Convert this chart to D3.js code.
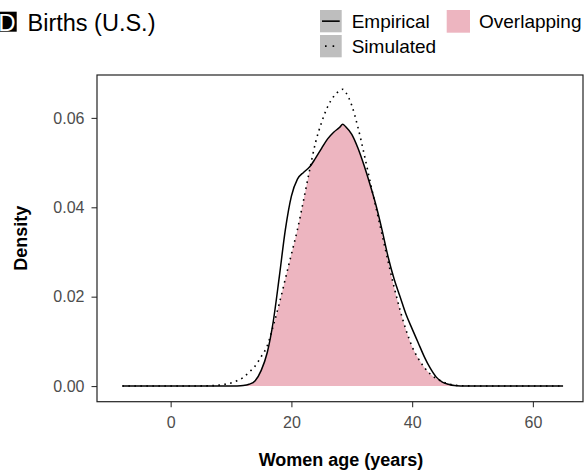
<!DOCTYPE html>
<html>
<head>
<meta charset="utf-8">
<script src="https://cdn.jsdelivr.net/npm/d3@7"></script>
<style>
  html, body { margin: 0; padding: 0; background: #fff; }
  svg { display: block; font-family: "Liberation Sans", Arial, Helvetica, sans-serif; }
</style>
</head>
<body>
<svg id="chart" width="584" height="471"></svg>
<script>
// ---- data ----
const ages = [-8, -4, 0, 4, 6, 8, 9, 10, 11, 12, 13, 14, 15, 16, 17, 18, 19, 20, 21, 22, 23, 24, 25, 26, 27, 28, 28.5, 29, 30, 31, 32, 33, 34, 35, 36, 37, 38, 39, 40, 41, 42, 43, 44, 45, 46, 47, 48, 50, 52, 56, 60, 65];
const empirical = [0, 0, 0, 0, 0, 0, 0, 0, 0.00002, 0.0001, 0.0004, 0.0012, 0.0035, 0.0075, 0.0145, 0.0245, 0.0350, 0.0425, 0.0463, 0.0478, 0.0490, 0.0510, 0.0532, 0.0553, 0.0568, 0.0579, 0.0586, 0.0580, 0.0563, 0.0533, 0.0495, 0.0452, 0.0405, 0.0350, 0.0290, 0.0240, 0.0200, 0.0160, 0.0128, 0.0097, 0.0066, 0.0040, 0.0020, 0.0009, 0.0004, 0.0001, 0.00003, 0, 0, 0, 0, 0];
const simulated = [0, 0, 0, 0.00002, 0.00005, 0.0002, 0.0004, 0.0007, 0.0012, 0.0019, 0.0031, 0.0045, 0.0066, 0.0090, 0.0135, 0.0185, 0.0240, 0.0295, 0.0350, 0.0415, 0.0482, 0.0545, 0.0590, 0.0625, 0.0648, 0.0661, 0.0664, 0.0657, 0.0628, 0.0580, 0.0522, 0.0460, 0.0400, 0.0340, 0.0280, 0.0222, 0.0170, 0.0125, 0.0088, 0.0062, 0.0042, 0.0027, 0.0017, 0.0010, 0.0005, 0.0002, 0.0001, 0.00002, 0, 0, 0, 0];
const xTicks = [0, 20, 40, 60];
const yTicks = [0, 0.02, 0.04, 0.06];
const yTickLabels = ["0.00", "0.02", "0.04", "0.06"];
const legendLines = ["Empirical", "Simulated"];
const legendFill = "Overlapping";
const title = "Births (U.S.)";
const tag = "D";
const xTitle = "Women age (years)";
const yTitle = "Density";

// ---- layout ----
const panel = { left: 97, right: 583, top: 75, bottom: 401.7 };
const pink = "#EDB5C0";

const svg = d3.select("#chart");
const x = d3.scaleLinear().domain([-12.2, 68.3]).range([panel.left, panel.right]);
const y = d3.scaleLinear().domain([-0.0035, 0.0696]).range([panel.bottom, panel.top]);

const empData = ages.map((a, i) => ({ a, d: empirical[i] }));
const simData = ages.map((a, i) => ({ a, d: simulated[i] }));

const defs = svg.append("defs");
const areaGen = d3.area().curve(d3.curveMonotoneX).x(p => x(p.a)).y0(y(0)).y1(p => y(p.d));
const lineGen = d3.line().curve(d3.curveMonotoneX).x(p => x(p.a)).y(p => y(p.d));

defs.append("clipPath").attr("id", "simClip")
  .append("path").attr("d", areaGen(simData));

// overlapping fill = area under both curves
svg.append("path")
  .attr("d", areaGen(empData))
  .attr("fill", pink)
  .attr("clip-path", "url(#simClip)");

// simulated (dotted)
svg.append("path")
  .attr("d", lineGen(simData))
  .attr("fill", "none")
  .attr("stroke", "#000")
  .attr("stroke-width", 1.6)
  .attr("stroke-dasharray", "1.6,4.4");

// empirical (solid)
svg.append("path")
  .attr("d", lineGen(empData))
  .attr("fill", "none")
  .attr("stroke", "#000")
  .attr("stroke-width", 1.5);

// axes
const xAxis = svg.append("g")
  .attr("transform", `translate(0,${panel.bottom})`)
  .call(d3.axisBottom(x).tickValues(xTicks).tickSize(5.5).tickPadding(9).tickFormat(d3.format("d")));
const yAxis = svg.append("g")
  .attr("transform", `translate(${panel.left},0)`)
  .call(d3.axisLeft(y).tickValues(yTicks).tickSize(5.5).tickPadding(7).tickFormat((d, i) => yTickLabels[i]));
[xAxis, yAxis].forEach(g => {
  g.select(".domain").remove();
  g.selectAll(".tick line").attr("stroke", "#333").attr("stroke-width", 1.1);
  g.selectAll(".tick text").attr("fill", "#4D4D4D").style("font-size", "16px")
    .style("font-family", '"Liberation Sans", Arial, Helvetica, sans-serif');
});

// panel border
svg.append("rect")
  .attr("x", panel.left).attr("y", panel.top)
  .attr("width", panel.right - panel.left).attr("height", panel.bottom - panel.top)
  .attr("fill", "none").attr("stroke", "#222").attr("stroke-width", 1.2);

// axis titles
svg.append("text")
  .attr("x", (panel.left + panel.right) / 2 + 1).attr("y", 465.5)
  .attr("text-anchor", "middle")
  .style("font-weight", "bold").style("font-size", "18px")
  .text(xTitle);
svg.append("text")
  .attr("transform", `translate(27,${(panel.top + panel.bottom) / 2}) rotate(-90)`)
  .attr("text-anchor", "middle")
  .style("font-weight", "bold").style("font-size", "18px")
  .text(yTitle);

// title + tag
svg.append("rect").attr("x", -10).attr("y", 11.7).attr("width", 26.7).attr("height", 20).attr("fill", "#000");
svg.append("text").attr("x", 15.5).attr("y", 30.5).attr("text-anchor", "end")
  .attr("fill", "#fff").style("font-size", "24px").text(tag);
svg.append("text").attr("x", 27.5).attr("y", 30.5)
  .style("font-size", "23.5px").text(title);

// legend
const keyW = 21.7, keyH = 22.3;
legendLines.forEach((name, i) => {
  const gy = 10 + i * 25;
  const g = svg.append("g").attr("transform", `translate(320,${gy})`);
  g.append("rect").attr("width", keyW).attr("height", keyH).attr("fill", "#BEBEBE");
  g.append("line").attr("x1", 2).attr("x2", keyW - 2).attr("y1", keyH / 2).attr("y2", keyH / 2)
    .attr("stroke", "#000").attr("stroke-width", 1.6)
    .attr("stroke-dasharray", i === 1 ? "1.6,6" : null)
    .attr("stroke-dashoffset", i === 1 ? -3 : null);
  g.append("text").attr("x", 31.7).attr("y", keyH / 2 + 6.8)
    .style("font-size", "19px").text(name);
});
const gf = svg.append("g").attr("transform", "translate(446.7,10)");
gf.append("rect").attr("width", 23.3).attr("height", 22.7).attr("fill", pink);
gf.append("text").attr("x", 32.3).attr("y", 11.3 + 6.8).style("font-size", "19px").text(legendFill);
</script>
</body>
</html>
